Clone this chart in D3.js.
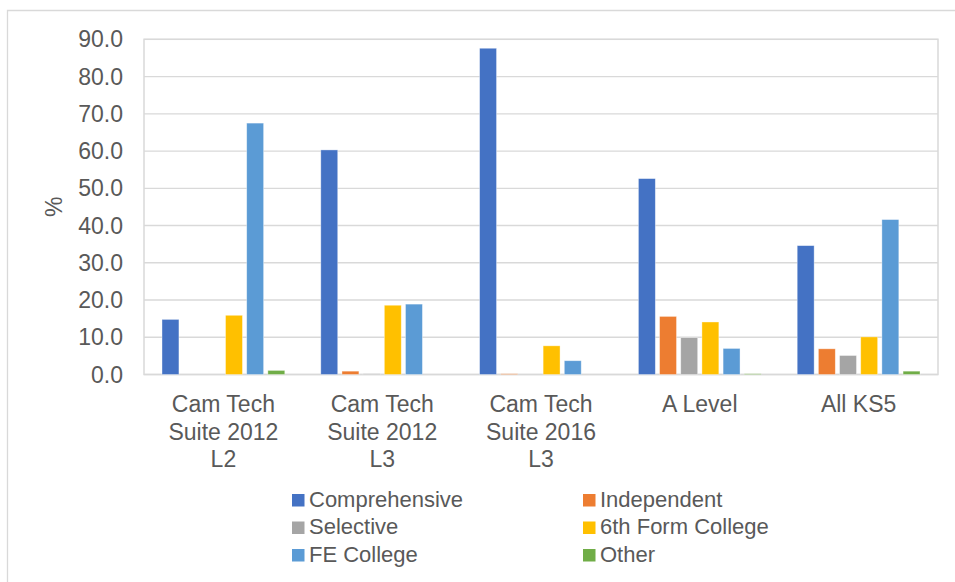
<!DOCTYPE html>
<html>
<head>
<meta charset="utf-8">
<script src="https://cdn.jsdelivr.net/npm/d3@7"></script>
<style>
  html, body { margin: 0; padding: 0; background: #fff; }
  svg { display: block; font-family: "Liberation Sans", Arial, sans-serif; }
</style>
</head>
<body>
<svg id="chart" width="955" height="582"></svg>
<script>
const categories = [
  ["Cam Tech", "Suite 2012", "L2"],
  ["Cam Tech", "Suite 2012", "L3"],
  ["Cam Tech", "Suite 2016", "L3"],
  ["A Level"],
  ["All KS5"]
];
const categoryKeys = ["CT2012L2", "CT2012L3", "CT2016L3", "ALevel", "AllKS5"];
const seriesNames = ["Comprehensive", "Independent", "Selective", "6th Form College", "FE College", "Other"];
const seriesColors = ["#4472C4", "#ED7D31", "#A5A5A5", "#FFC000", "#5B9BD5", "#70AD47"];
const comprehensive = [14.8, 60.3, 87.6, 52.6, 34.6];
const independent   = [0.0, 0.9, 0.2, 15.6, 6.9];
const selective     = [0.0, 0.2, 0.0, 9.9, 5.1];
const sixthForm     = [15.9, 18.6, 7.7, 14.1, 10.1];
const feCollege     = [67.5, 18.9, 3.7, 7.0, 41.6];
const other         = [1.1, 0.0, 0.0, 0.2, 0.9];
const yTicks = [0, 10, 20, 30, 40, 50, 60, 70, 80, 90];

const seriesValues = [comprehensive, independent, selective, sixthForm, feCollege, other];

(function () {
const svg = d3.select("#chart");
const textColor = "#595959";
const gridColor = "#d9d9d9";

// outer chart border
svg.append("path")
  .attr("d", "M7.5,582 L7.5,10.5 L955,10.5")
  .attr("fill", "none").attr("stroke", gridColor).attr("stroke-width", 1.3);

const pLeft = 144, pRight = 938, pTop = 39.3, pBottom = 374.5;

const y = d3.scaleLinear().domain([0, 90]).range([pBottom, pTop]);
const x0 = d3.scaleBand().domain(categoryKeys).range([pLeft, pRight]).paddingInner(0.2).paddingOuter(0.1);
const x1 = d3.scaleBand().domain(seriesNames).range([0, x0.bandwidth()]).paddingInner(0.2).paddingOuter(0.1);

// gridlines
svg.append("g").selectAll("line").data(yTicks).join("line")
  .attr("x1", pLeft).attr("x2", pRight)
  .attr("y1", d => y(d)).attr("y2", d => y(d))
  .attr("stroke", gridColor).attr("stroke-width", 1.3);

// plot area border
svg.append("rect")
  .attr("x", pLeft).attr("y", pTop).attr("width", pRight - pLeft).attr("height", pBottom - pTop)
  .attr("fill", "none").attr("stroke", gridColor).attr("stroke-width", 1.5);

// y tick labels
svg.append("g").selectAll("text").data(yTicks).join("text")
  .attr("x", 123).attr("y", d => y(d)).attr("dy", "0.35em")
  .attr("text-anchor", "end").attr("fill", textColor).attr("font-size", 23)
  .text(d => d3.format(".1f")(d));

// y axis title
svg.append("text")
  .attr("transform", `translate(62,${(pTop + pBottom) / 2}) rotate(-90)`)
  .attr("text-anchor", "middle").attr("fill", textColor).attr("font-size", 23)
  .text("%");

// bars
const groups = svg.append("g").selectAll("g").data(categoryKeys).join("g")
  .attr("transform", d => `translate(${x0(d)},0)`);

groups.selectAll("rect")
  .data((d, i) => seriesNames.map((s, j) => ({ s, j, v: seriesValues[j][i] })).filter(e => e.v > 0))
  .join("rect")
  .attr("x", d => x1(d.s))
  .attr("width", x1.bandwidth())
  .attr("y", d => y(d.v))
  .attr("height", d => y(0) - y(d.v))
  .attr("fill", d => seriesColors[d.j])
  .attr("stroke", "#ffffff").attr("stroke-opacity", 0.5).attr("stroke-width", 0.75);

// x labels
const xl = svg.append("g").selectAll("text").data(categoryKeys).join("text")
  .attr("text-anchor", "middle").attr("fill", textColor).attr("font-size", 23);
xl.each(function (d, i) {
  const t = d3.select(this);
  categories[i].forEach((line, k) => {
    t.append("tspan")
      .attr("x", x0(d) + x0.bandwidth() / 2)
      .attr("y", 412 + k * 27.5)
      .text(line);
  });
});

// legend
const legCols = [292, 583];
const legRows = [506.5, 534, 561.5];
const leg = svg.append("g").selectAll("g").data(seriesNames).join("g")
  .attr("transform", (d, i) => `translate(${legCols[i % 2]},${legRows[Math.floor(i / 2)]})`);
leg.append("rect")
  .attr("x", 0).attr("y", -12.5).attr("width", 12.5).attr("height", 12.5)
  .attr("fill", (d, i) => seriesColors[i]);
leg.append("text")
  .attr("x", 17).attr("y", 0)
  .attr("fill", textColor).attr("font-size", 22)
  .text(d => d);
})();
</script>
</body>
</html>
